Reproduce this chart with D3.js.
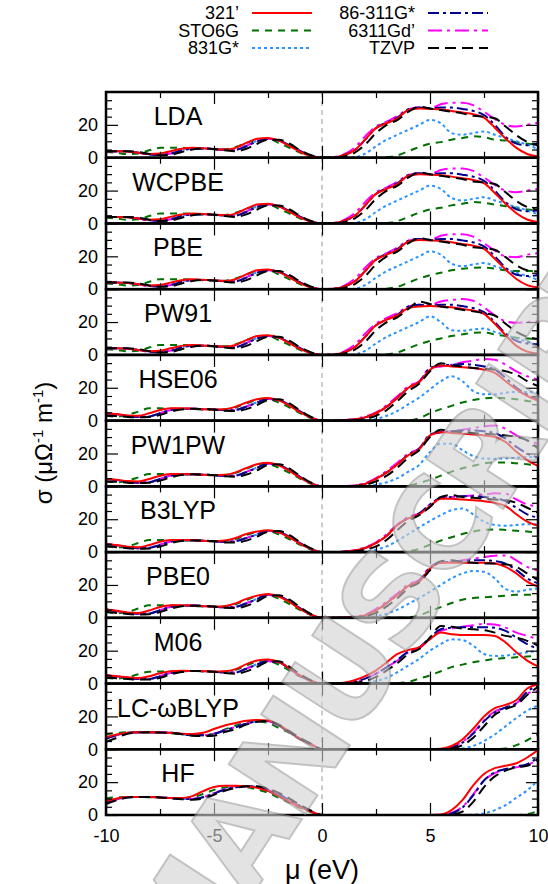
<!DOCTYPE html>
<html>
<head>
<meta charset="utf-8">
<script src="https://cdn.jsdelivr.net/npm/d3@7"></script>
<style>
  body { margin: 0; background: #fff; }
  svg { display: block; }
</style>
</head>
<body>
<script>
// chemical potential grid (eV)
var mu = [-10,-9.5,-9,-8.5,-8,-7.5,-7,-6.5,-6,-5.5,-5,-4.5,-4,-3.5,-3,-2.5,-2,-1.5,-1,-0.5,
          0,0.5,1,1.5,2,2.5,3,3.5,4,4.5,5,5.5,6,6.5,7,7.5,8,8.5,9,9.5,10];

var basisSets = ["321\u2019", "STO6G", "831G*", "86-311G*", "6311Gd\u2019", "TZVP"];
var functionals = ["LDA", "WCPBE", "PBE", "PW91", "HSE06", "PW1PW", "B3LYP", "PBE0", "M06", "LC-\u03c9BLYP", "HF"];

// rows: 321', STO6G, 831G*, 86-311G*, 6311Gd', TZVP
var LDA = [
  [4,4,3.8,3,2.2,2.5,4,5.5,6,5.8,5.3,5,6,9,11.5,12,10.5,7,3.5,1, 0,0.2,1.5,4.5,11,18,21,24,29,30,29.7,29.3,28.5,27.5,26.5,24.4,18.3,11.7,6,2.3,0.8],
  [3.5,3,2.2,2.5,4.5,6,6,6,5.8,5.5,5.2,5.2,6.5,9,11,11.5,9,6,3,1, 0,0,0,0,0,0,0.3,1.5,4,6.5,8.5,9.5,11,12,13,12.5,11,10.5,9.5,8.5,8],
  [4,4,3.8,3,2,1.8,2.8,4.8,5.6,5.6,5.3,4.8,5,7.5,10.3,11.5,10.5,7.5,4,1.3, 0,0,0,0.3,2.5,7,11,14,17,20,23,21,15,14,15,16,14,12,10,8,5],
  [4,4,3.8,3,2,1.6,2.5,4.5,5.5,5.6,5.3,4.8,4.8,7,10,11.5,10.5,7.5,4,1.3, 0,0.2,1.5,4.5,11,18,21.5,24.5,29.5,30.5,30,30.5,30.5,29.7,28.5,26,20,12.7,8.6,7.6,8.6],
  [4,4,3.8,3,2,1.7,2.6,4.6,5.6,5.6,5.3,4.8,4.9,7.2,10.2,11.5,10.4,7.3,3.9,1.2, 0,0.3,2,6,13,19,22,25.5,29.5,30.5,30,32.5,33.5,33.5,32,28,23.5,20,19,20,21.3],
  [4,4,4,3.5,2.3,1.5,1.8,3.5,5,5.6,5.3,4.5,4,5.5,8.5,11,11,8.5,4.5,1.5, 0,0.1,0.8,3,8,15,20,23,28,31,30,29,28,27,25.5,25,24,19,13.7,9.6,7.6]
];
var WCPBE = [
  [4,4,3.8,3,2.2,2.5,4,5.5,6,5.8,5.3,5,6,9,11.5,12,10.5,7,3.5,1, 0,0.2,1.5,4.5,11,18,21,24,29,30,29.7,29.3,28.5,27.5,26.5,24.5,18.5,12,6.2,2.4,0.8],
  [3.5,3,2.2,2.5,4.5,6,6,6,5.8,5.5,5.2,5.2,6.5,9,11,11.5,9,6,3,1, 0,0,0,0,0,0,0.3,1.5,4,6.5,8.5,9.5,11,12,13,12.5,11.5,10.5,9.5,8.5,8],
  [4,4,3.8,3,2,1.8,2.8,4.8,5.6,5.6,5.3,4.8,5,7.5,10.3,11.5,10.5,7.5,4,1.3, 0,0,0,0.3,2.5,7,11,14,17,20,23,21,15.5,14,15,16,14,12,10,8,5.5],
  [4,4,3.8,3,2,1.6,2.5,4.5,5.5,5.6,5.3,4.8,4.8,7,10,11.5,10.5,7.5,4,1.3, 0,0.2,1.5,4.5,11,18,21.5,24.5,29.5,30.5,30,30.5,30.5,29.7,28.5,26,20,13,8.6,7.4,8],
  [4,4,3.8,3,2,1.7,2.6,4.6,5.6,5.6,5.3,4.8,4.9,7.2,10.2,11.5,10.4,7.3,3.9,1.2, 0,0.3,2,6,13,19,22,25.5,29.5,30.5,30,32.5,33.5,33.5,32,28,23.5,20,19,20,21],
  [4,4,4,3.5,2.3,1.5,1.8,3.5,5,5.6,5.3,4.5,4,5.5,8.5,11,11,8.5,4.5,1.5, 0,0.1,0.8,3,8,15,20,23,28,31,30,29,28,27,25.5,25,24,19,13.7,10,8.5]
];
var PBE = [
  [4,4,3.8,3,2.2,2.5,4,5.5,6,5.8,5.3,5,6,9,11.5,12,10.5,7,3.5,1, 0,0.2,1.5,4.5,11,18,21,24,29,30,29.7,29.3,28.5,27.5,26.5,24.5,18.5,12,6.2,2.5,1],
  [3.5,3,2.2,2.5,4.5,6,6,6,5.8,5.5,5.2,5.2,6.5,9,11,11.5,9,6,3,1, 0,0,0,0,0,0,0.3,1.5,4,6.5,8.5,10,11.5,12.5,13,13.2,12.5,11.5,11,11,11],
  [4,4,3.8,3,2,1.8,2.8,4.8,5.6,5.6,5.3,4.8,5,7.5,10.3,11.5,10.5,7.5,4,1.3, 0,0,0,0.3,2.5,7,11,14,17,20,23,21,15.5,14,15,16,14,12,10,8,5.6],
  [4,4,3.8,3,2,1.6,2.5,4.5,5.5,5.6,5.3,4.8,4.8,7,10,11.5,10.5,7.5,4,1.3, 0,0.2,1.5,4.5,11,18,21.5,24.5,29.5,30.5,30,30.5,30.5,29.7,28.5,26,20,13,8.8,8,8.7],
  [4,4,3.8,3,2,1.7,2.6,4.6,5.6,5.6,5.3,4.8,4.9,7.2,10.2,11.5,10.4,7.3,3.9,1.2, 0,0.3,2,6,13,19,22,25.5,29.5,30.5,30,32.5,33.5,33.5,32,28,23.5,20,19.5,21,22],
  [4,4,4,3.5,2.3,1.5,1.8,3.5,5,5.6,5.3,4.5,4,5.5,8.5,11,11,8.5,4.5,1.5, 0,0.1,0.8,3,8,15,20,23,28,31,30,29,28,27,25.5,25,24,19.5,14.5,11.5,10.7]
];
var PW91 = [
  [4,4,3.8,3,2.2,2.5,4,5.5,6,5.8,5.3,5,6,9,11.5,12,10.5,7,3.5,1, 0,0.2,1.5,4.5,11,18,21.5,24,28.5,29.5,29.7,29.5,29,28,27,25,19,12,5.5,2,0.8],
  [3.5,3,2.2,2.5,4.5,6,6,6,5.8,5.5,5.2,5.2,6.5,9,11,11.5,9,6,3,1, 0,0,0,0,0,0,0.3,1.5,4,6.5,8.5,10,11.5,12.5,13.5,13.7,12.5,11.5,10.5,10,9.6],
  [4,4,3.8,3,2,1.8,2.8,4.8,5.6,5.6,5.3,4.8,5,7.5,10.3,11.5,10.5,7.5,4,1.3, 0,0,0,0.3,2.5,7,11,14,17,20,23.5,20,15,14.7,15.5,16,14,12,10,8,6],
  [4,4,3.8,3,2,1.6,2.5,4.5,5.5,5.6,5.3,4.8,4.8,7,10,11.5,10.5,7.5,4,1.3, 0,0.2,1.5,4.5,11,18,21.5,24.5,29.5,30.5,30,30.5,30.5,29.7,28.5,26,20,13,8.5,7,6.5],
  [4,4,3.8,3,2,1.7,2.6,4.6,5.6,5.6,5.3,4.8,4.9,7.2,10.2,11.5,10.4,7.3,3.9,1.2, 0,0.3,2,6,13,19,22.5,25.5,29.5,30.5,30.5,32.5,33.5,34,33,29,24,20.5,19.5,20,20.5],
  [4,4,4,3.5,2.3,1.5,1.8,3.5,5,5.6,5.3,4.5,4,5.5,8.5,11,11,8.5,4.5,1.5, 0,0.1,0.8,3,8,15,20,23,28,32.5,31,29.5,28.5,27.5,26.5,25.5,24,19,14,11,9.6]
];
var HSE06 = [
  [4.5,4,3.2,3,4.5,6.5,7.5,7.5,7.3,7,6.8,7,8.5,11,13,13.8,12.3,9,5,1.8, 0,0,0.2,0.8,2,4.5,8.5,14,20,23.5,31,33.5,33,32.5,32,31,29,24,19,15,12],
  [3,2.5,3.5,5.5,7.5,7.5,7.3,7.2,7,6.8,6.6,6.8,8,10.5,12.5,13,11,8,4.5,1.5, 0,0,0,0,0,0,0,0,0,1.5,4.5,7,9,11,12.5,13.5,14,13.5,13,12,11],
  [4.5,3.8,2.8,2.2,2.6,4.6,6.6,7.2,7.3,7,6.8,6.3,6.6,8.7,11.2,13.3,12.5,9.5,5.5,2, 0,0,0,0,0,1,3,6,10,14,19,24,27,24,18,16,16,17,17.5,17.5,17],
  [4.5,3.8,2.8,2.2,2.5,4.5,6.5,7.2,7.3,7,6.8,6.3,6.5,8.5,11,13.3,12.5,9.5,5.5,2, 0,0,0.2,0.8,2,4.5,8.5,14,20,23.5,32,33.5,34,34.5,34,33,31,26,20,16,13],
  [4.5,3.8,2.8,2.2,2.6,4.5,6.5,7.2,7.3,7,6.8,6.3,6.5,8.6,11.1,13.2,12.4,9.4,5.4,1.9, 0,0,0.3,1,2.5,5,9.5,15,21,24,32,33,34,35.5,36.5,37.5,37,34,30,27,25],
  [3,2.8,2.2,2,2.2,3.5,5.5,6.8,7.2,7.1,6.8,6,5.8,7,9.5,12.5,13,10.5,6,2.2, 0,0,0,0.3,1,3,6.5,12,18,22.5,30,35,33.5,33,32,31.5,31,30,28,24,21]
];
var PW1PW = [
  [4.5,4,3.2,3,4.5,6.5,7.5,7.6,7.4,7,6.8,7,8.5,11.2,13.5,14.3,12.8,9.3,5.2,1.8, 0,0,0.1,0.4,1.5,4.5,8.5,13.5,19,22.5,31,33,32.5,32,31.5,31,30,27,21,16,12.5],
  [3,2.5,3.5,5.5,7.5,7.6,7.4,7.3,7.1,6.9,6.7,6.9,8.2,10.8,13,13.5,11.3,8.2,4.6,1.5, 0,0,0,0,0,0,0,0,0.5,2,4,6.5,9,11,12.5,14,14.5,14.5,14,13.5,12.5],
  [4.5,3.8,2.8,2.2,2.6,4.6,6.7,7.3,7.4,7.1,6.9,6.4,6.7,8.9,11.5,13.8,13,9.8,5.6,2, 0,0,0,0,0.2,1,2.5,5,9,13,21,26,26,22,18.5,17,16.8,17,17.5,17.8,17.8],
  [4.5,3.8,2.8,2.2,2.5,4.5,6.6,7.3,7.4,7.1,6.9,6.4,6.6,8.7,11.3,13.8,13,9.8,5.6,2, 0,0,0.1,0.4,1.5,4.5,8.5,13.5,19.5,23,31.5,33,33.5,34,34,33.5,32.5,29,24,20,17.5],
  [4.5,3.8,2.8,2.2,2.6,4.5,6.6,7.3,7.4,7.1,6.9,6.4,6.6,8.8,11.4,13.7,12.9,9.7,5.5,1.9, 0,0,0.2,0.6,2,5,9.5,14.5,20,23,31.5,33,33.5,34.5,35.5,36.5,37,35,31,28,26],
  [3,2.8,2.2,2,2.2,3.5,5.5,6.9,7.3,7.2,6.9,6.1,5.9,7.2,9.8,13,13.5,10.8,6.2,2.2, 0,0,0,0.2,1,3,6.5,11.5,17.5,22,30,34.5,33.5,33,32.5,32,31.5,31,30,28,23]
];
var B3LYP = [
  [5,4.3,3.3,3,4.3,6.3,7.3,7.4,7.3,6.9,6.6,7,8.6,11,12.5,13.3,12,8.8,5,1.8, 0,0,0.2,1,2.5,5.5,10,16.5,20.5,23,28,32.5,32.5,32,31.5,31,30,28,23,18.5,16],
  [3.5,2.8,3.5,5.5,7.3,7.4,7.2,7.1,7,6.7,6.5,6.8,8,10.3,12.2,12.7,10.8,7.8,4.4,1.5, 0,0,0,0,0,0,0,0,0.5,2,4.5,7,9,11,12.5,13.5,13.8,13.5,13,12.5,11.7],
  [5,4,3,2.4,2.7,4.5,6.5,7.1,7.2,6.9,6.6,6.3,6.8,8.7,10.8,13,12.2,9.2,5.3,2, 0,0,0,0,0.3,1.5,3.5,7,11,15,19,22.5,25.5,26.5,23,18.5,16.5,16,16.5,17,17],
  [5,4,3,2.4,2.6,4.4,6.4,7.1,7.2,6.9,6.6,6.3,6.7,8.5,10.7,13,12.2,9.2,5.3,2, 0,0,0.2,1,2.5,5.5,10,16.5,21,23.5,29,33,33.5,34,34,33.5,33,31,27,23,21],
  [5,4,3,2.4,2.7,4.5,6.5,7.1,7.2,6.9,6.6,6.3,6.7,8.6,10.8,12.9,12.1,9.1,5.2,1.9, 0,0,0.3,1.2,3,6,11,17,21.5,23.5,29,33,33.5,34,34.5,35,35.8,35.5,32,29,28],
  [3.5,3,2.3,2,2.2,3.4,5.4,6.7,7.1,7,6.7,5.9,5.8,7,9.5,12.3,12.8,10.3,5.9,2.2, 0,0,0.1,0.5,1.5,3.5,7.5,13.5,19,22.5,27.5,33.5,34.7,33.5,33,32.5,32,31.5,30,27,24]
];
var PBE0 = [
  [5,4.3,3.3,3,4.5,6.6,7.6,7.7,7.5,7.1,6.8,7.1,8.8,11.5,13.5,14.5,13,9.5,5.3,1.9, 0,0,0.1,0.5,1.5,4.5,9,14,19.5,22,30,33.5,33.5,33.5,33.5,33.5,33,31,27,22,19],
  [3.5,2.8,3.6,5.7,7.6,7.7,7.5,7.4,7.2,6.9,6.7,6.9,8.3,10.9,13.2,13.8,11.6,8.4,4.7,1.6, 0,0,0,0,0,0,0,0,0.3,1.5,4,6.5,9,11,12,12.5,13,13.5,14,14,14],
  [5,4,3,2.4,2.7,4.7,6.8,7.4,7.5,7.1,6.8,6.4,6.8,9,11.6,14,13.2,10,5.7,2, 0,0,0,0,0.2,1,2.5,5,8.5,12,16,20,24,27,28.5,28,24,17.5,16,17,18],
  [5,4,3,2.4,2.6,4.6,6.7,7.4,7.5,7.1,6.8,6.4,6.7,8.8,11.4,14,13.2,10,5.7,2, 0,0,0.1,0.5,1.5,4.5,9,14,19.5,22.5,30.5,34,34,34.5,35,35,34.5,33,29,24,21],
  [5,4,3,2.4,2.7,4.6,6.7,7.4,7.5,7.1,6.8,6.4,6.7,8.9,11.5,13.9,13.1,9.9,5.6,1.9, 0,0,0.2,0.8,2,5.5,10,15,20.5,23,31,33.5,34,35,36,37,37.8,38,35,31,29],
  [3.5,3,2.3,2,2.2,3.5,5.6,7,7.4,7.3,6.9,6.1,5.9,7.3,10,13.3,13.8,11,6.3,2.3, 0,0,0,0.3,1,3,7,12,18,21.5,29,34.5,35,34,33.5,33,33,32.5,31,27,23]
];
var M06 = [
  [5,4.5,3.8,3.3,4.5,6.3,7.5,7.8,7.7,7.5,7.3,7.5,8.8,11.8,14,14.7,13.2,9.2,4.8,1.6, 0,0,0.5,2,4.5,8,13,18,20.5,22,27,31,30,29.5,29.5,29.5,29,25,19,14,10.5],
  [3.5,3,3.8,5.7,7.2,7.3,7.3,7.5,7.6,7.4,7.1,7.2,8.3,11,13.2,13.5,11.5,7.8,4.2,1.4, 0,0,0,0,0,0,0,0.2,1,3,5,7.5,10,11.5,13,14,15,15.5,16,16.5,16.8],
  [5,4.3,3.6,2.8,2.9,4.5,6.5,7.5,7.7,7.5,7.2,6.7,6.8,9.2,11.8,13.7,13,9,4.6,1.6, 0,0,0,0,0.3,1.5,3.5,7,11,15,20,24,26.9,26.5,23,18,16.8,17,18,19,19.8],
  [5,4.3,3.6,2.8,2.8,4.4,6.4,7.5,7.7,7.5,7.2,6.7,6.7,9,11.6,13.7,13,9,4.6,1.6, 0,0,0.3,1,3,6,10,14.5,19.5,22,28,33,34,34.3,34.3,34.3,34,32,28,24,21],
  [5,4.3,3.6,2.8,2.9,4.5,6.5,7.5,7.7,7.5,7.2,6.7,6.8,9.1,11.7,13.6,12.9,8.9,4.5,1.5, 0,0,0.3,1,3,6,10,14,19,21.5,27,32,33.5,34.5,35.5,36.3,36,34,31,29,27],
  [3.5,3.2,2.8,2.4,2.4,3.5,5.6,7,7.6,7.6,7.2,6.4,6,7.4,10.2,13.2,13.6,10.2,5.5,1.9, 0,0,0.1,0.5,1.5,4,8,12.5,18,21,28,35,34.5,33.5,33,32.5,31,29,28,26,23]
];
var LCwBLYP = [
  [7.3,9,10,10.3,10.3,10.2,10,9.5,9.3,10,12.3,14.5,16,17.3,17.8,17.5,15,10.5,6.3,3, 0,0,0,0,0,0,0,0,0,0,0,0.3,2,6,12.5,20,25,27,30,37,39.5],
  [8.9,10,10.3,10.3,10.2,10,9.8,9.3,8.8,8.8,9.5,12,14.5,16.5,17,16,13,10,6,2.8, 0,0,0,0,0,0,0,0,0,0,0,0,0,0,0,0,0,0.5,2.5,5.5,9],
  [6.3,8.5,10,10.3,10.3,10.2,10,9.3,8.5,8.5,9.3,11.5,13.5,15.5,17,17.2,14.5,10.5,6.3,3.2, 0,0,0,0,0,0,0,0,0,0,0,0,0,0.5,2,5,9,14,19,23.5,26.7],
  [6.3,8.5,10,10.3,10.3,10.2,10,9.3,8.5,8.5,9.3,11.5,13.5,15.5,17,17.2,14.5,10.5,6.3,3.2, 0,0,0,0,0,0,0,0,0,0,0,0,1,4,9.5,17,22.5,25.5,28,35,39],
  [6.5,8.7,10,10.3,10.3,10.2,10,9.3,8.6,8.6,9.4,11.6,13.6,15.6,17,17.1,14.4,10.4,6.2,3.1, 0,0,0,0,0,0,0,0,0,0,0,0,1.2,4.5,10,17.5,23,25.5,28,34,35.5],
  [4.6,7,9.5,10.2,10.3,10.2,10,9.2,8.3,8.1,8.3,10.5,12.3,15,16.8,17.2,15,11,6.8,3.3, 0,0,0,0,0,0,0,0,0,0,0,0,0.5,2.5,7,14,21,24.5,27,33,38]
];
var HF = [
  [8.5,10,11,11,11,10.7,10.3,10.3,11.5,14.5,17,17.8,17.8,17.5,16.5,14.5,11.5,8,4.8,2, 0,0,0,0,0,0,0,0,0,0,0,0.3,3,9,18,25,28.5,30,31.5,35,39.5],
  [10,10.8,11,11,10.8,10.5,10.3,10.3,10.8,12.8,15.3,16.8,17.3,17,15.5,13.5,10.5,7.5,4.3,1.8, 0,0,0,0,0,0,0,0,0,0,0,0,0,0,0,0,0,0,0,0.5,2.5],
  [7.5,9.5,10.8,11,11,10.7,10.3,9.8,9.8,11,13.3,15.8,17,17.5,17,15.5,12.5,9,5.3,2.2, 0,0,0,0,0,0,0,0,0,0,0,0,0,0,0.2,1,3,6,10.5,15,21],
  [7.5,9.5,10.8,11,11,10.7,10.3,9.8,9.7,10.8,13,15.5,16.8,17.5,17,15.5,12.5,9,5.3,2.2, 0,0,0,0,0,0,0,0,0,0,0,0,1,4.5,12,21,26,28,29.5,31,35],
  [7.7,9.6,10.8,11,11,10.7,10.3,9.8,9.8,10.9,13.2,15.7,17,17.5,17,15.3,12.3,8.8,5.2,2.1, 0,0,0,0,0,0,0,0,0,0,0,0,1.2,5,12.5,21,25.5,27.5,29,30.5,33.5],
  [6.5,9,10.6,11,11,10.7,10.2,9.6,9.3,10,12.3,14.8,16.5,17.5,17.5,16,13.5,10,6,2.6, 0,0,0,0,0,0,0,0,0,0,0,0,0.3,2,8,17,23.5,27,29,30,34]
];
var panels = [LDA, WCPBE, PBE, PW91, HSE06, PW1PW, B3LYP, PBE0, M06, LCwBLYP, HF];

var yMajor = [0, 20], yMinor = [5, 10, 15, 25, 30, 35];
var xMajor = [-10, -5, 0, 5, 10], xMinor = [-7.5, -2.5, 2.5, 7.5];

var width = 548, height = 884;
var plotLeft = 106, plotRight = 538, plotTop = 92, plotBottom = 815;
var ph = (plotBottom - plotTop) / functionals.length;
var font = "'Liberation Sans', Arial, sans-serif";

var styles = [
  {color: "#ff0000", dash: null},
  {color: "#007000", dash: "7,6"},
  {color: "#2a93ff", dash: "3,3"},
  {color: "#000090", dash: "11,4,3,4"},
  {color: "#ff00ff", dash: "14,5,3,5"},
  {color: "#000000", dash: "11,6"}
];
var drawOrder = [1, 2, 4, 3, 0, 5];

var x = d3.scaleLinear().domain([-10, 10]).range([plotLeft, plotRight]);
var y = d3.scaleLinear().domain([0, 40]).range([ph, 0]);

var line = d3.line()
    .x(function(d, i) { return x(mu[i]); })
    .y(function(d) { return y(d); })
    .curve(d3.curveMonotoneX);

var svg = d3.select("body").append("svg")
    .attr("width", width)
    .attr("height", height)
    .style("font-family", font);

var defs = svg.append("defs");

// legend
var leg = svg.append("g");
basisSets.forEach(function(name, i) {
  var col = i < 3 ? 0 : 1, row = i % 3;
  var tx = col ? 415 : 239, ly = 19 + row * 17.5;
  leg.append("text")
      .attr("x", tx).attr("y", ly)
      .attr("text-anchor", "end")
      .style("font-size", "18px")
      .text(name);
  leg.append("line")
      .attr("x1", tx + 13).attr("x2", tx + 73)
      .attr("y1", ly - 6).attr("y2", ly - 6)
      .attr("stroke", styles[i].color)
      .attr("stroke-width", 2)
      .attr("stroke-dasharray", styles[i].dash);
});

panels.forEach(function(data, p) {
  var g = svg.append("g").attr("transform", "translate(0," + (plotTop + p * ph) + ")");

  defs.append("clipPath").attr("id", "clip" + p)
    .append("rect")
      .attr("x", plotLeft).attr("y", 0)
      .attr("width", plotRight - plotLeft).attr("height", ph);

  // x = 0 guide
  g.append("line")
      .attr("x1", x(0)).attr("x2", x(0))
      .attr("y1", 0).attr("y2", ph)
      .attr("stroke", "#999")
      .attr("stroke-width", 1)
      .attr("stroke-dasharray", "5,4");

  var lines = g.append("g").attr("clip-path", "url(#clip" + p + ")");
  drawOrder.forEach(function(s) {
    lines.append("path")
        .datum(data[s])
        .attr("fill", "none")
        .attr("stroke", styles[s].color)
        .attr("stroke-width", 2)
        .attr("stroke-dasharray", styles[s].dash)
        .attr("d", line);
  });

  // ticks on all four sides, pointing inward
  g.append("g").attr("transform", "translate(" + plotLeft + ",0)")
      .call(d3.axisLeft(y).tickValues(yMajor).tickSizeInner(-12).tickSizeOuter(0).tickPadding(8));
  g.append("g").attr("transform", "translate(" + plotLeft + ",0)")
      .call(d3.axisLeft(y).tickValues(yMinor).tickSizeInner(-6).tickSizeOuter(0).tickFormat(""));
  g.append("g").attr("transform", "translate(" + plotRight + ",0)")
      .call(d3.axisRight(y).tickValues(yMajor).tickSizeInner(-12).tickSizeOuter(0).tickFormat(""));
  g.append("g").attr("transform", "translate(" + plotRight + ",0)")
      .call(d3.axisRight(y).tickValues(yMinor).tickSizeInner(-6).tickSizeOuter(0).tickFormat(""));

  var last = p === panels.length - 1;
  g.append("g").attr("transform", "translate(0," + ph + ")")
      .call(d3.axisBottom(x).tickValues(xMajor).tickSizeInner(-12).tickSizeOuter(0).tickPadding(14)
        .tickFormat(last ? function(d) { return String(d); } : ""));
  g.append("g").attr("transform", "translate(0," + ph + ")")
      .call(d3.axisBottom(x).tickValues(xMinor).tickSizeInner(-6).tickSizeOuter(0).tickFormat(""));
  g.append("g")
      .call(d3.axisTop(x).tickValues(xMajor).tickSizeInner(-12).tickSizeOuter(0).tickFormat(""));
  g.append("g")
      .call(d3.axisTop(x).tickValues(xMinor).tickSizeInner(-6).tickSizeOuter(0).tickFormat(""));

  g.append("rect")
      .attr("x", plotLeft).attr("y", 0)
      .attr("width", plotRight - plotLeft).attr("height", ph)
      .attr("fill", "none")
      .attr("stroke", "#000")
      .attr("stroke-width", 2.5);

  g.append("text")
      .attr("x", 178).attr("y", 33)
      .attr("text-anchor", "middle")
      .style("font-size", "25px")
      .text(functionals[p]);
});

svg.selectAll(".domain").remove();
svg.selectAll(".tick line").attr("stroke", "#000").attr("stroke-width", 1.2);
svg.selectAll(".tick text")
    .attr("fill", "#000")
    .style("font-size", "18px")
    .style("font-family", font);

// axis titles
svg.append("text")
    .attr("x", (plotLeft + plotRight) / 2).attr("y", 879)
    .attr("text-anchor", "middle")
    .style("font-size", "27px")
    .text("\u03bc (eV)");

var yt = svg.append("text")
    .attr("transform", "translate(52,443) rotate(-90)")
    .attr("text-anchor", "middle")
    .style("font-size", "24px");
yt.append("tspan").text("\u03c3 (\u03bc\u03a9");
yt.append("tspan").attr("dy", -9).style("font-size", "15px").text("-1");
yt.append("tspan").attr("dy", 9).text(" m");
yt.append("tspan").attr("dy", -9).style("font-size", "15px").text("-1");
yt.append("tspan").attr("dy", 9).text(")");

// watermark
svg.append("text")
    .attr("transform", "translate(185,999) rotate(-57)")
    .style("font-family", "'DejaVu Sans', sans-serif")
    .style("font-weight", "bold")
    .style("font-size", "125px")
    .style("letter-spacing", "-6px")
    .attr("fill", "#d2d2d2")
    .attr("stroke", "#9a9a9a")
    .attr("stroke-width", 2)
    .attr("opacity", 0.6)
    .text("MANUSCRIPT");
</script>
</body>
</html>
